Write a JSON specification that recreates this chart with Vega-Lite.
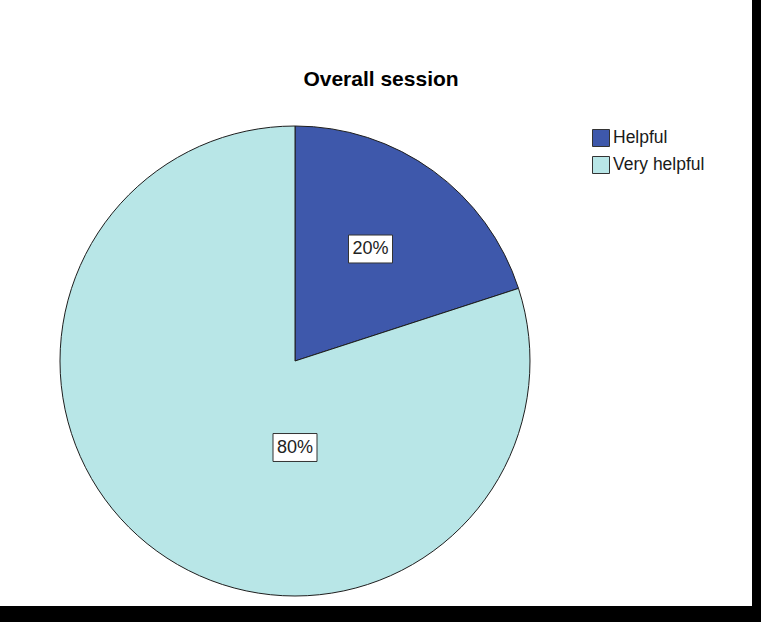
{
  "$schema": "https://vega.github.io/schema/vega-lite/v6.json",
  "width": 752,
  "height": 606,
  "autosize": {"type": "none"},
  "padding": {"left": 0, "top": 0, "right": 9, "bottom": 16},
  "background": "#000000",
  "config": {
    "view": {"fill": "#ffffff", "stroke": null},
    "font": "Liberation Sans"
  },
  "title": {
    "text": "Overall session",
    "font": "Liberation Sans",
    "fontSize": 21,
    "fontWeight": "bold",
    "color": "#000000",
    "anchor": "middle",
    "frame": "group",
    "baseline": "alphabetic",
    "offset": -107,
    "dx": 5
  },
  "data": {
    "values": [
      {"label": "Helpful", "value": 20, "order": 1},
      {"label": "Very helpful", "value": 80, "order": 2}
    ]
  },
  "transform": [{"calculate": "datum.value + '%'", "as": "pct"}],
  "encoding": {
    "x": {"value": 295},
    "y": {"value": 361}
  },
  "layer": [
    {
      "mark": {"type": "arc", "outerRadius": 235, "stroke": "#1e1e1e", "strokeWidth": 1},
      "encoding": {
        "theta": {"field": "value", "type": "quantitative", "stack": true},
        "order": {"field": "order", "type": "quantitative"},
        "color": {
          "field": "label",
          "type": "nominal",
          "scale": {"domain": ["Helpful", "Very helpful"], "range": ["#3e58ab", "#b8e6e7"]},
          "legend": {
            "title": null,
            "orient": "none",
            "direction": "vertical",
            "legendX": 592,
            "legendY": 129,
            "symbolType": "square",
            "symbolSize": 289,
            "symbolStrokeColor": "#333333",
            "symbolStrokeWidth": 1,
            "symbolOpacity": 1,
            "labelFont": "Liberation Sans",
            "labelFontSize": 17.5,
            "labelColor": "#1a1a1a",
            "labelOffset": 3,
            "rowPadding": 5
          }
        }
      }
    },
    {
      "transform": [{"filter": "datum.label === 'Helpful'"}],
      "layer": [
        {
          "mark": {"type": "point", "shape": "M-2,-1.27H2V1.27H-2Z", "size": 484, "filled": true, "fill": "#ffffff", "stroke": "#333333", "strokeWidth": 1, "opacity": 1, "xOffset": 75.5, "yOffset": -112}
        },
        {
          "mark": {"type": "text", "font": "Liberation Sans", "fontSize": 18, "color": "#222222", "baseline": "middle", "align": "center", "xOffset": 75.5, "yOffset": -112},
          "encoding": {"text": {"field": "pct", "type": "nominal"}}
        }
      ]
    },
    {
      "transform": [{"filter": "datum.label === 'Very helpful'"}],
      "layer": [
        {
          "mark": {"type": "point", "shape": "M-2,-1.27H2V1.27H-2Z", "size": 484, "filled": true, "fill": "#ffffff", "stroke": "#333333", "strokeWidth": 1, "opacity": 1, "xOffset": 0, "yOffset": 86.5}
        },
        {
          "mark": {"type": "text", "font": "Liberation Sans", "fontSize": 18, "color": "#222222", "baseline": "middle", "align": "center", "xOffset": 0, "yOffset": 86.5},
          "encoding": {"text": {"field": "pct", "type": "nominal"}}
        }
      ]
    }
  ]
}
